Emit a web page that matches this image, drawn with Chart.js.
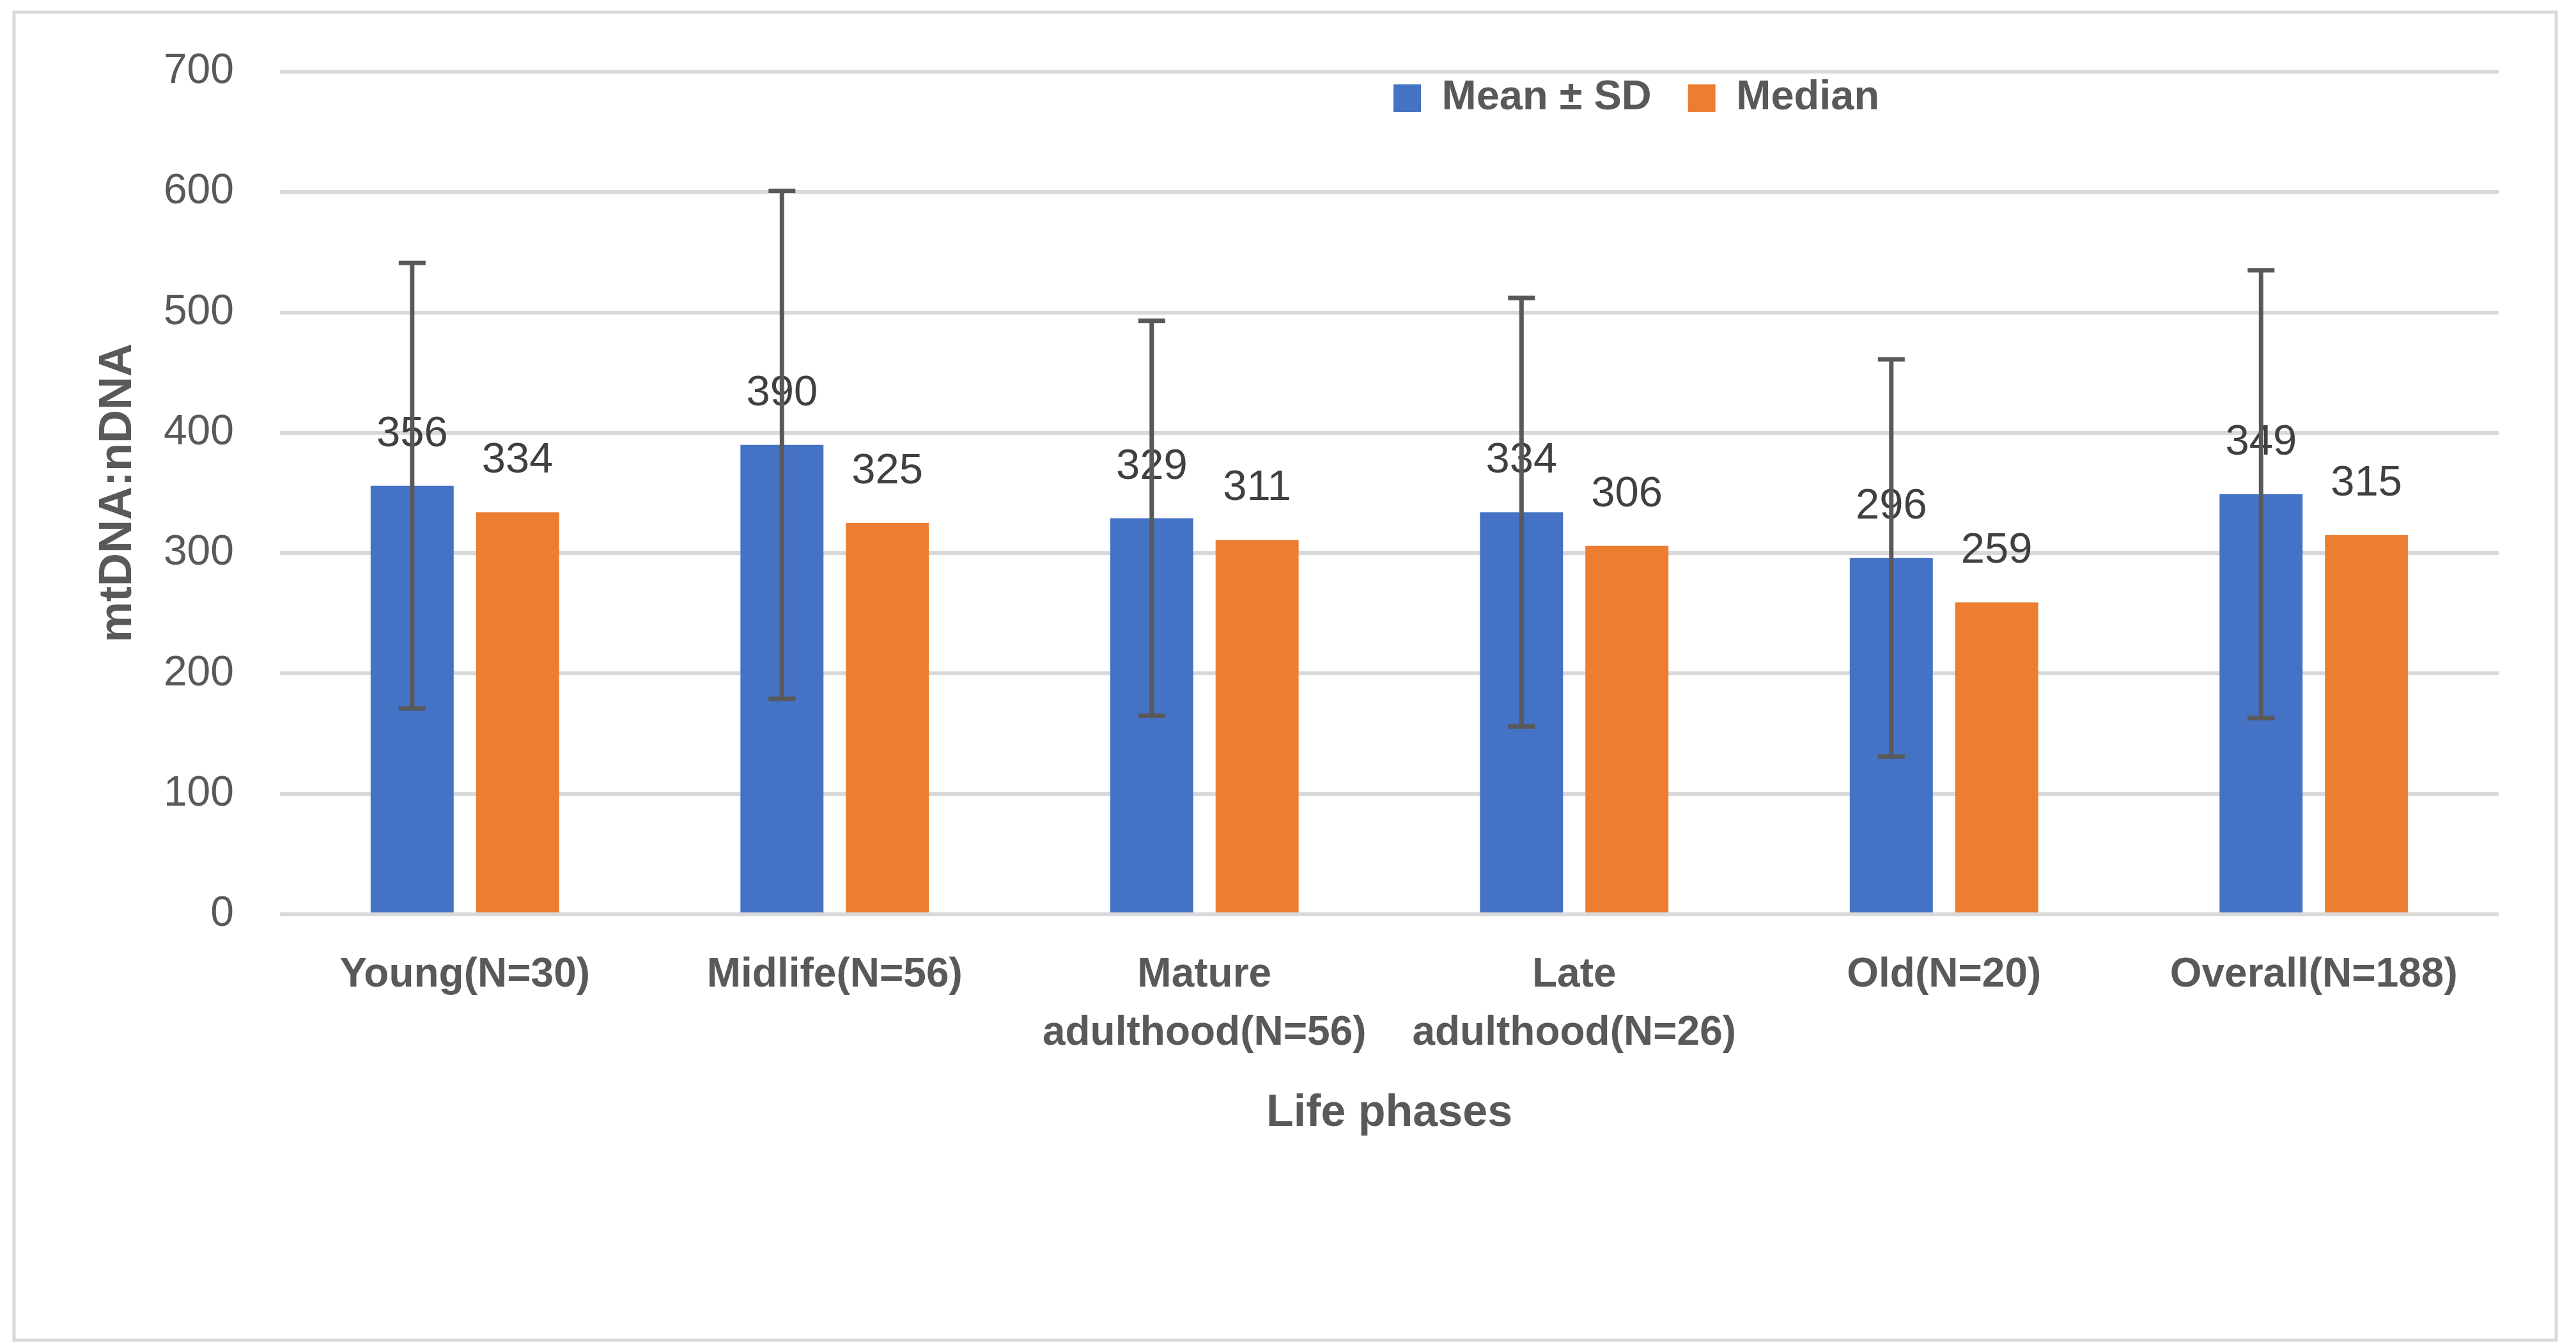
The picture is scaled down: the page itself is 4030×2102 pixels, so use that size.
<!DOCTYPE html>
<html>
<head>
<meta charset="utf-8">
<script src="https://cdn.jsdelivr.net/npm/chart.js@4.4.1/dist/chart.umd.min.js"></script>
<style>
html,body{margin:0;padding:0;background:#ffffff;}
#wrap{width:4030px;height:2102px;position:relative;}
</style>
</head>
<body>
<div id="wrap"><canvas id="c" width="4030" height="2102"></canvas></div>
<script>
const categories = [
  'Young(N=30)',
  'Midlife(N=56)',
  ['Mature', 'adulthood(N=56)'],
  ['Late', 'adulthood(N=26)'],
  'Old(N=20)',
  'Overall(N=188)'
];
const meanValues = [356, 390, 329, 334, 296, 349];
const sdValues = [185, 211, 164, 178, 165, 186];
const medianValues = [334, 325, 311, 306, 259, 315];
const seriesNames = ['Mean \u00B1 SD', 'Median'];
const yTickValues = [0, 100, 200, 300, 400, 500, 600, 700];
const yTitle = 'mtDNA:nDNA';
const xTitle = 'Life phases';

const FONT = '"Liberation Sans", Arial, sans-serif';
Chart.defaults.font.family = FONT;
Chart.defaults.color = '#595959';

const frame = {
  id: 'frame',
  beforeDraw(chart) {
    const ctx = chart.ctx;
    ctx.save();
    ctx.fillStyle = '#ffffff';
    ctx.fillRect(0, 0, chart.width, chart.height);
    ctx.strokeStyle = '#d9d9d9';
    ctx.lineWidth = 5;
    ctx.strokeRect(22, 19, 3977, 2077);
    ctx.restore();
  }
};

const legendMover = {
  id: 'legendMover',
  afterLayout(chart) {
    const lg = chart.legend;
    if (!lg) return;
    lg.left = 2123;
    lg.right = 3990;
    lg.width = lg.right - lg.left;
    lg.top = 64;
    lg.bottom = 264;
    lg.height = 200;
  }
};

const overlay = {
  id: 'overlay',
  afterDatasetsDraw(chart) {
    const ctx = chart.ctx;
    const ys = chart.scales.y;
    ctx.save();
    ctx.font = '67px ' + FONT;
    ctx.fillStyle = '#404040';
    ctx.textAlign = 'center';
    ctx.textBaseline = 'alphabetic';
    chart.data.datasets.forEach((ds, di) => {
      const meta = chart.getDatasetMeta(di);
      meta.data.forEach((bar, i) => {
        ctx.fillText(String(ds.data[i]), bar.x, bar.y - 62);
      });
    });
    const meta0 = chart.getDatasetMeta(0);
    ctx.strokeStyle = '#595959';
    ctx.lineWidth = 7;
    meta0.data.forEach((bar, i) => {
      const top = ys.getPixelForValue(meanValues[i] + sdValues[i]);
      const bot = ys.getPixelForValue(meanValues[i] - sdValues[i]);
      ctx.beginPath();
      ctx.moveTo(bar.x, top); ctx.lineTo(bar.x, bot);
      ctx.moveTo(bar.x - 21, top); ctx.lineTo(bar.x + 21, top);
      ctx.moveTo(bar.x - 21, bot); ctx.lineTo(bar.x + 21, bot);
      ctx.stroke();
    });
    ctx.restore();
  }
};

new Chart(document.getElementById('c'), {
  type: 'bar',
  data: {
    labels: categories,
    datasets: [
      { label: seriesNames[0], data: meanValues, backgroundColor: '#4472C4', borderWidth: 0,
        categoryPercentage: 0.57, barPercentage: 0.788 },
      { label: seriesNames[1], data: medianValues, backgroundColor: '#ED7D31', borderWidth: 0,
        categoryPercentage: 0.57, barPercentage: 0.788 }
    ]
  },
  options: {
    responsive: false,
    devicePixelRatio: 1,
    animation: false,
    layout: { padding: { top: 111, left: 0, right: 121, bottom: 0 } },
    plugins: {
      tooltip: { enabled: false },
      legend: {
        display: true,
        position: 'top',
        align: 'start',
        maxHeight: 1,
        labels: {
          boxWidth: 43,
          boxHeight: 43,
          padding: 57,
          color: '#595959',
          font: { size: 65, weight: 'bold', family: FONT }
        }
      }
    },
    scales: {
      x: {
        grid: { display: false, drawTicks: false },
        border: { display: false },
        ticks: {
          color: '#595959',
          padding: 50,
          maxRotation: 0,
          autoSkip: false,
          font: { size: 64, weight: 'bold', family: FONT, lineHeight: 1.42 }
        },
        title: {
          display: true,
          text: xTitle,
          color: '#595959',
          font: { size: 70, weight: 'bold', family: FONT, lineHeight: 1.2 },
          padding: { top: 0, bottom: 318 }
        },
        afterFit(scale) { scale.height = 672; }
      },
      y: {
        min: 0,
        max: 700,
        afterBuildTicks(scale) { scale.ticks = yTickValues.map(v => ({ value: v })); },
        grid: { color: '#d9d9d9', lineWidth: 6, drawTicks: false },
        border: { display: false },
        ticks: {
          color: '#595959',
          padding: 72,
          font: { size: 66, family: FONT }
        },
        title: {
          display: true,
          text: yTitle,
          color: '#595959',
          font: { size: 72, weight: 'bold', family: FONT, lineHeight: 1.2 },
          padding: { top: 142, bottom: 0 }
        },
        afterFit(scale) { scale.width = 438; }
      }
    }
  },
  plugins: [frame, legendMover, overlay]
});
</script>
</body>
</html>
